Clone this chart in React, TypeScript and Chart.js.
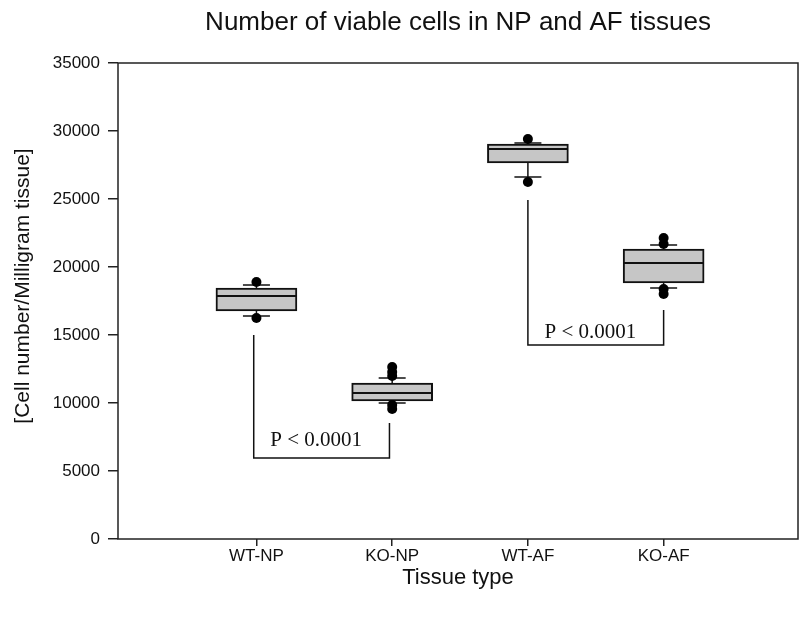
import React, { useEffect, useRef } from "react";
import { Chart, registerables } from "chart.js";

Chart.register(...registerables);

const categories = ["WT-NP", "KO-NP", "WT-AF", "KO-AF"];
const positions = [1, 2, 3, 4];
const q1 = [16765, 10147, 27647, 18824];
const medians = [17868, 10735, 28676, 20294];
const q3 = [18456, 11471, 29044, 21324];
const whiskerLow = [16397, 10000, 26618, 18456];
const whiskerHigh = [18676, 11838, 29118, 21618];
const outlierCategory = [1, 1, 2, 2, 2, 2, 2, 3, 3, 4, 4, 4, 4];
const outlierValues = [18897, 16250, 12647, 12279, 11985, 9853, 9559, 29412, 26250, 22132, 21691, 18382, 18015];
const yTickValues = [0, 5000, 10000, 15000, 20000, 25000, 30000, 35000];
const bracket1X = [0.98, 0.98, 1.98, 1.98];
const bracket1Y = [15000, 5950, 5950, 8530];
const bracket2X = [3, 3, 4, 4];
const bracket2Y = [24926, 14265, 14265, 16838];
const pLabelText = "P < 0.0001";
const pLabelX = [1.44, 3.46];
const pLabelY = [7280, 15220];

const titleText = "Number of viable cells in NP and AF tissues";
const xTitleText = "Tissue type";
const yTitleText = "[Cell number/Milligram tissue]";

const SANS = '"Liberation Sans", Arial, sans-serif';
const SERIF = '"Liberation Serif", "Times New Roman", serif';

const framePlugin = {
  id: "frame",
  beforeDatasetsDraw(chart: any) {
    const { ctx, chartArea } = chart;
    ctx.save();
    ctx.strokeStyle = "#222";
    ctx.lineWidth = 1.5;
    ctx.strokeRect(chartArea.left, chartArea.top, chartArea.right - chartArea.left, chartArea.bottom - chartArea.top);
    ctx.restore();
  },
};

const textPlugin = {
  id: "texts",
  afterDraw(chart: any) {
    const { ctx, chartArea, scales } = chart;
    ctx.save();
    ctx.fillStyle = "#111";
    ctx.textAlign = "center";
    ctx.textBaseline = "middle";
    ctx.font = `26px ${SANS}`;
    ctx.fillText(titleText, (chartArea.left + chartArea.right) / 2, 23);
    ctx.font = `22px ${SANS}`;
    ctx.fillText(xTitleText, (chartArea.left + chartArea.right) / 2, 578);
    ctx.save();
    ctx.translate(23, 286);
    ctx.rotate(-Math.PI / 2);
    ctx.font = `21px ${SANS}`;
    ctx.fillText(yTitleText, 0, 0);
    ctx.restore();
    ctx.font = `21px ${SERIF}`;
    pLabelX.forEach((x, i) => {
      ctx.fillText(pLabelText, scales.x.getPixelForValue(x), scales.y.getPixelForValue(pLabelY[i]));
    });
    ctx.restore();
  },
};

function lineDs(xs: number[], ys: number[], order: number, width = 1.5) {
  return {
    type: "line",
    data: xs.map((x, i) => ({ x, y: ys[i] })),
    borderColor: "#111",
    borderWidth: width,
    pointRadius: 0,
    fill: false,
    tension: 0,
    order,
  };
}

export default function App() {
  const ref = useRef<HTMLCanvasElement>(null);
  useEffect(() => {
    if (!ref.current) return;
    const whiskers: any[] = [];
    positions.forEach((p, i) => {
      whiskers.push(lineDs([p, p], [q3[i], whiskerHigh[i]], 4));
      whiskers.push(lineDs([p, p], [q1[i], whiskerLow[i]], 4));
    });
    const chart = new Chart(ref.current, {
      type: "bar",
      data: {
        datasets: [
          {
            type: "bar",
            data: positions.map((p, i) => ({ x: p, y: [q1[i], q3[i]] })),
            backgroundColor: "#c6c6c6",
            borderColor: "#111",
            borderWidth: 2,
            borderSkipped: false,
            barThickness: 81,
            order: 5,
          } as any,
          ...whiskers,
          {
            type: "line",
            showLine: false,
            data: [...positions.map((p, i) => ({ x: p, y: whiskerHigh[i] })), ...positions.map((p, i) => ({ x: p, y: whiskerLow[i] }))],
            pointStyle: "line",
            pointRadius: 13.5,
            borderColor: "#111",
            borderWidth: 1.5,
            order: 3,
          },
          {
            type: "line",
            showLine: false,
            data: positions.map((p, i) => ({ x: p, y: medians[i] })),
            pointStyle: "line",
            pointRadius: 40,
            borderColor: "#111",
            borderWidth: 2,
            order: 2,
          },
          {
            type: "line",
            showLine: false,
            data: outlierCategory.map((c, i) => ({ x: c, y: outlierValues[i] })),
            pointStyle: "circle",
            pointRadius: 5,
            backgroundColor: "#000",
            borderColor: "#000",
            borderWidth: 0,
            order: 1,
          },
          lineDs(bracket1X, bracket1Y, 6),
          lineDs(bracket2X, bracket2Y, 6),
        ] as any,
      },
      options: {
        animation: false,
        responsive: false,
        events: [],
        layout: { autoPadding: false, padding: { top: 63, right: 2, left: 0, bottom: 0 } },
        plugins: { legend: { display: false }, tooltip: { enabled: false }, title: { display: false } },
        scales: {
          x: {
            type: "linear",
            min: -0.02,
            max: 4.99,
            offset: false,
            afterFit: (s: any) => { s.height = 78; s.paddingLeft = 0; s.paddingRight = 0; },
            afterBuildTicks: (s: any) => { s.ticks = positions.map((v) => ({ value: v })); },
            grid: { display: true, drawOnChartArea: false, drawTicks: true, tickLength: 7, color: "#222", lineWidth: 1.5, offset: false },
            border: { display: false },
            ticks: {
              autoSkip: false,
              maxRotation: 0,
              padding: 0,
              color: "#111",
              font: { family: SANS, size: 17 },
              callback: (v: any) => {
                const idx = positions.indexOf(Number(v));
                return idx >= 0 ? categories[idx] : "";
              },
            },
          },
          y: {
            type: "linear",
            min: 0,
            max: 35000,
            afterFit: (s: any) => { s.width = 118; s.paddingTop = 0; s.paddingBottom = 0; },
            afterBuildTicks: (s: any) => { s.ticks = yTickValues.map((v) => ({ value: v })); },
            grid: { display: true, drawOnChartArea: false, drawTicks: true, tickLength: 10, color: "#222", lineWidth: 1.5 },
            border: { display: false },
            ticks: {
              padding: 8,
              color: "#111",
              font: { family: SANS, size: 17 },
              callback: (v: any) => String(v),
            },
          },
        },
      } as any,
      plugins: [framePlugin, textPlugin],
    });
    return () => chart.destroy();
  }, []);
  return (
    <div style={{ position: "absolute", left: 0, top: 0, width: 800, height: 617, background: "#fff" }}>
      <canvas ref={ref} width={800} height={617} style={{ width: 800, height: 617, display: "block" }} />
    </div>
  );
}
